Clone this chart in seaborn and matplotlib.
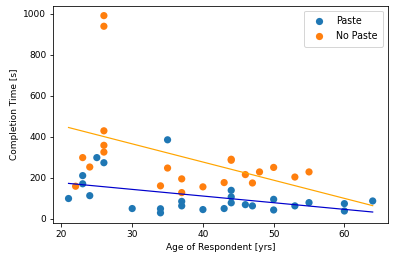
import numpy as np
import pandas as pd
import matplotlib
matplotlib.use("Agg")
import matplotlib.pyplot as plt
import seaborn as sns

# valores
idade_paste = [21, 23, 23, 24, 25, 26, 30, 34, 34, 35, 37, 37, 40, 43, 44, 44, 44,
               46, 47, 50, 50, 53, 55, 60, 60, 64]
tempo_paste = [98, 210, 170, 112, 298, 273, 49, 48, 28, 385, 84, 62, 44, 49, 138, 106, 77,
               68, 62, 94, 42, 62, 78, 73, 37, 86]

idade_nopaste = [22, 23, 24, 26, 26, 26, 26, 26, 34, 35, 37, 37, 40, 43, 44, 44, 46, 47,
                 48, 50, 53, 55]
tempo_nopaste = [158, 298, 252, 992, 940, 429, 358, 325, 160, 247, 194, 127, 155, 176, 285,
                 290, 215, 174, 228, 250, 203, 228]

grupos = ["Paste", "No Paste"]

df = pd.DataFrame({
    "idade": idade_paste + idade_nopaste,
    "tempo": tempo_paste + tempo_nopaste,
    "grupo": [grupos[0]] * len(idade_paste) + [grupos[1]] * len(idade_nopaste),
})

plt.rcParams["font.family"] = ["DejaVu Sans"]
plt.rcParams["font.size"] = 9

fig, ax = plt.subplots(figsize=(395 / 72, 262 / 72), dpi=72)
sns.scatterplot(data=df, x="idade", y="tempo", hue="grupo", hue_order=grupos,
                palette=["tab:blue", "tab:orange"], s=52, linewidth=0, ax=ax)

# retas de regressao sobre toda a faixa de idades
x_linha = np.array([df["idade"].min(), df["idade"].max()])
a1, b1 = np.polyfit(idade_paste, tempo_paste, 1)
a2, b2 = np.polyfit(idade_nopaste, tempo_nopaste, 1)
ax.plot(x_linha, a1 * x_linha + b1, color="mediumblue", linewidth=1.2)
ax.plot(x_linha, a2 * x_linha + b2, color="orange", linewidth=1.2)

ax.set_xlabel("Age of Respondent [yrs]")
ax.set_ylabel("Completion Time [s]")
ax.legend(loc="upper right", title=None, fontsize=9.5, borderpad=0.6)

fig.subplots_adjust(left=0.135, right=0.982, top=0.978, bottom=0.15)
fig.savefig("out.png", dpi=72)
